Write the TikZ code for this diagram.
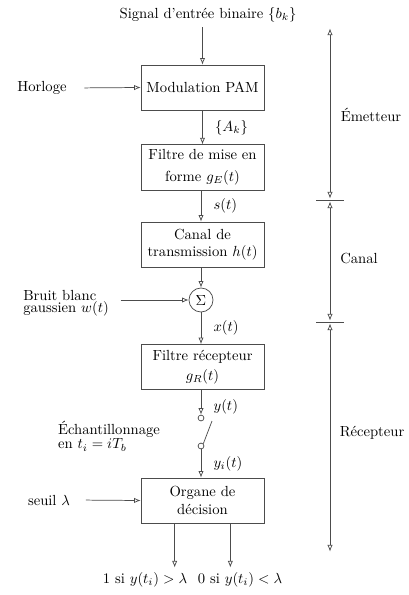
\documentclass[tikz,border=0pt]{standalone}
\usepackage{tikz}
\usetikzlibrary{positioning,calc,arrows.meta}
\colorlet{traitGray}{black!70}

\begin{document}
\begin{tikzpicture}[x=0.024cm, y=-0.024cm,
    bloc/.style={draw=traitGray, line width=0.5pt, minimum width=2.95cm, minimum height=1.08cm, align=center},
    fleche/.style={-{Latex[open,length=4.5pt,width=3.6pt]}, draw=traitGray, text=black, line width=0.5pt},
    cote/.style={{Latex[open,length=4.5pt,width=3.6pt]}-{Latex[open,length=4.5pt,width=3.6pt]}, draw=traitGray, line width=0.5pt, shorten <=1pt, shorten >=1pt},
    borne/.style={circle, draw=traitGray, line width=0.5pt, inner sep=0pt, minimum size=4pt},
    serre/.style={align=left, font=\fontsize{10}{8.5}\selectfont}]
    \useasboundingbox (0,0) rectangle (409,595);
    % chaine principale
    \node (titre) at (208,15) {Signal d'entrée binaire $\{b_k\}$};
    \node[bloc] (mod) at (202.5,87.5) {Modulation PAM};
    \node[bloc] (ge) at (202.5,167.5) {Filtre de mise en\\[3pt] forme $g_E(t)$};
    \node[bloc] (can) at (202.5,244.5) {Canal de\\ transmission $h(t)$};
    \node[circle, draw=traitGray, line width=0.5pt, inner sep=0pt, minimum size=0.576cm] (som) at (201,300) {$\Sigma$};
    \node[bloc] (gr) at (202.5,367) {Filtre récepteur\\[2pt] $g_R(t)$};
    \node[borne] (sw1) at (201,418) {};
    \node[borne] (sw2) at (201,446) {};
    \node[bloc] (org) at (202.5,500.5) {Organe de\\ décision};
    % entrees laterales
    \node (horl) at (42,88) {Horloge};
    \node[serre] (bruit) at (66,303) {Bruit blanc\\ gaussien $w(t)$};
    \node[serre] (ech) at (109,436) {Échantillonnage\\ en $t_i = iT_b$};
    \node (seuil) at (49,500) {seuil $\lambda$};
    \node (sort1) at (145,580) {1 si $y(t_i) > \lambda$};
    \node (sort2) at (240,580) {0 si $y(t_i) < \lambda$};

    \draw[fleche] (mod.north |- titre.south) -- (mod.north);
    \draw[fleche] (mod) -- node[right=5pt]{$\{A_k\}$} (ge);
    \draw[fleche] (som.north |- ge.south) -- node[right=5pt]{$s(t)$} (som.north |- can.north);
    \draw[fleche] (som.north |- can.south) -- (som.north);
    \draw[fleche] (som.south) -- node[right=5pt]{$x(t)$} (som.south |- gr.north);
    \draw[fleche] (som.south |- gr.south) -- node[right=5pt, pos=0.7]{$y(t)$} (sw1.north);
    \draw[traitGray, line width=0.5pt] (sw2.north east) -- (212,421);
    \draw[fleche] (sw2.south) -- node[right=5pt]{$y_i(t)$} (sw2.south |- org.north);
    \draw[fleche, shorten <=0.3cm] (horl.east) -- (mod.west);
    \draw[fleche, shorten <=0.16cm] (bruit.east |- som.west) -- (som.west);
    \draw[fleche, shorten <=0.26cm] (seuil.east) -- (org.west);
    \coordinate (o1) at ([xshift=-19pt]org.south);
    \coordinate (o2) at ([xshift=19pt]org.south);
    \draw[fleche] (o1) -- (o1 |- sort1.north);
    \draw[fleche] (o2) -- (o2 |- sort2.north);

    % cotes a droite
    \coordinate (dA) at (330,27);
    \coordinate (dB) at (330,200);
    \coordinate (dC) at (330,322);
    \coordinate (dD) at (330,553);
    \draw[cote] (dA) -- (dB);
    \draw[cote] (dB) -- (dC);
    \draw[cote] (dC) -- (dD);
    \draw[traitGray, line width=0.5pt] ([xshift=-9.5pt]dB) -- ([xshift=9.5pt]dB);
    \draw[traitGray, line width=0.5pt] ([xshift=-9.5pt]dC) -- ([xshift=9.5pt]dC);
    \node (emet) at (371,115) {Émetteur};
    \node (canal) at (359,258) {Canal};
    \node (recep) at (372,433) {Récepteur};
\end{tikzpicture}
\end{document}
